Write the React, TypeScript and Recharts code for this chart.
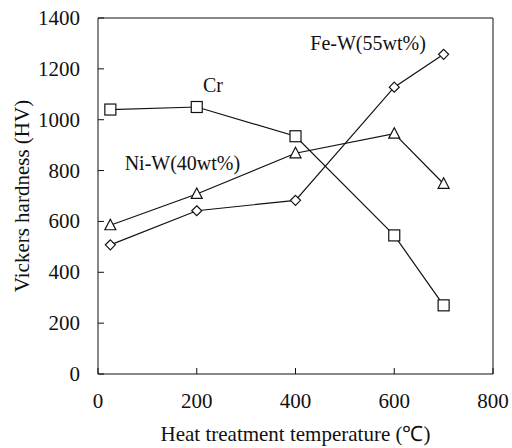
import { LineChart, Line, XAxis, YAxis, ReferenceLine, ReferenceDot } from "recharts";

const TEMPS = [25, 200, 400, 600, 700];
const CR = [1040, 1050, 935, 545, 270];
const NIW = [585, 708, 868, 945, 748];
const FEW = [508, 642, 683, 1128, 1257];
const X_TICKS = [0, 200, 400, 600, 800];
const Y_TICKS = [0, 200, 400, 600, 800, 1000, 1200, 1400];

const FONT = '"Liberation Serif", "Times New Roman", serif';
const INK = "#111";

const data = TEMPS.map((t, i) => ({ t, cr: CR[i], niw: NIW[i], few: FEW[i] }));

// tick text drawn by hand so the serif font sticks
const XTick = (p: any) => (
  <text x={p.x} y={p.y + 15} textAnchor="middle" fill={INK} fontSize={21} fontFamily={FONT}>
    {p.payload.value}
  </text>
);
const YTick = (p: any) => (
  <text x={p.x} y={p.y + 7} textAnchor="end" fill={INK} fontSize={21} fontFamily={FONT}>
    {p.payload.value}
  </text>
);

const Square = (p: any) =>
  p.cx == null ? null : (
    <rect x={p.cx - 5.5} y={p.cy - 5.5} width={11} height={11} fill="#fff" stroke={INK} strokeWidth={1.2} />
  );

const Triangle = (p: any) =>
  p.cx == null ? null : (
    <polygon
      points={`${p.cx},${p.cy - 6} ${p.cx - 5.5},${p.cy + 4.5} ${p.cx + 5.5},${p.cy + 4.5}`}
      fill="#fff"
      stroke={INK}
      strokeWidth={1.2}
    />
  );

const Diamond = (p: any) =>
  p.cx == null ? null : (
    <polygon
      points={`${p.cx},${p.cy - 5} ${p.cx + 5},${p.cy} ${p.cx},${p.cy + 5} ${p.cx - 5},${p.cy}`}
      fill="#fff"
      stroke={INK}
      strokeWidth={1.2}
    />
  );

const note = (value: string) => ({ value, position: "center" as const, fill: INK, fontSize: 20, fontFamily: FONT });

export default function App() {
  return (
    <div style={{ position: "absolute", left: 0, top: 0, background: "#fff" }}>
      <LineChart width={512} height={448} data={data} margin={{ top: 18, right: 19, left: 0, bottom: 0 }}>
        <XAxis
          dataKey="t"
          type="number"
          domain={[0, 800]}
          ticks={X_TICKS}
          height={74}
          tick={<XTick />}
          tickSize={-6}
          tickMargin={25}
          stroke={INK}
          label={{
            content: ({ viewBox }: any) => (
              <text x={viewBox.x + viewBox.width / 2} y={441} textAnchor="middle" fill={INK} fontSize={21} fontFamily={FONT}>
                Heat treatment temperature (℃)
              </text>
            ),
          }}
        />
        <YAxis
          type="number"
          domain={[0, 1400]}
          ticks={Y_TICKS}
          width={98}
          tick={<YTick />}
          tickSize={-6}
          tickMargin={24}
          stroke={INK}
          label={{
            content: ({ viewBox }: any) => {
              const cy = viewBox.y + viewBox.height / 2;
              return (
                <text
                  x={22}
                  y={cy}
                  transform={`rotate(-90 22 ${cy})`}
                  textAnchor="middle"
                  dominantBaseline="central"
                  fill={INK}
                  fontSize={21}
                  fontFamily={FONT}
                >
                  Vickers hardness (HV)
                </text>
              );
            },
          }}
        />
        <ReferenceLine y={1400} stroke={INK} />
        <ReferenceLine x={800} stroke={INK} />
        <Line dataKey="cr" stroke={INK} strokeWidth={1.2} dot={<Square />} isAnimationActive={false} />
        <Line dataKey="niw" stroke={INK} strokeWidth={1.2} dot={<Triangle />} isAnimationActive={false} />
        <Line dataKey="few" stroke={INK} strokeWidth={1.2} dot={<Diamond />} isAnimationActive={false} />
        <ReferenceDot x={233} y={1136} r={0} label={note("Cr")} />
        <ReferenceDot x={171} y={830} r={0} label={note("Ni-W(40wt%)")} />
        <ReferenceDot x={547} y={1301} r={0} label={note("Fe-W(55wt%)")} />
      </LineChart>
    </div>
  );
}
